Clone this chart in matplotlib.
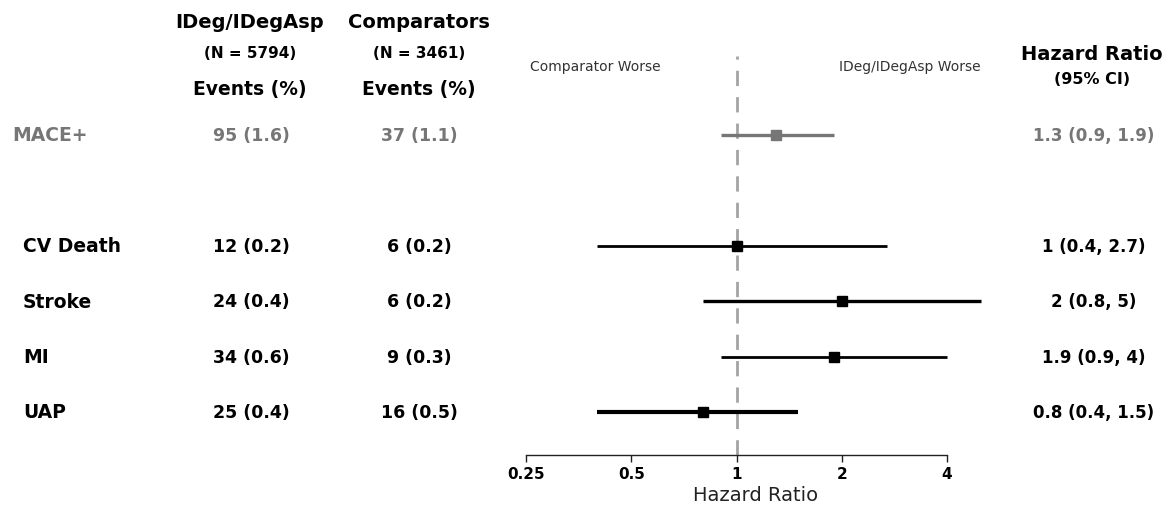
"""Forest plot of cardiovascular outcomes, IDeg/IDegAsp vs comparators."""

import matplotlib.pyplot as plt
import matplotlib.transforms as mtransforms
from matplotlib.ticker import FixedLocator, FixedFormatter, NullLocator

plt.rcParams["font.family"] = ["DejaVu Sans"]

outcomes = ["MACE+", "CV Death", "Stroke", "MI", "UAP"]
row_pos = [0, 2, 3, 4, 5]
ideg_events = ["95 (1.6)", "12 (0.2)", "24 (0.4)", "34 (0.6)", "25 (0.4)"]
comp_events = ["37 (1.1)", "6 (0.2)", "6 (0.2)", "9 (0.3)", "16 (0.5)"]
hr = [1.3, 1.0, 2.0, 1.9, 0.8]
ci_low = [0.9, 0.4, 0.8, 0.9, 0.4]
ci_high = [1.9, 2.7, 5.0, 4.0, 1.5]
hr_labels = ["1.3 (0.9, 1.9)", "1 (0.4, 2.7)", "2 (0.8, 5)",
             "1.9 (0.9, 4)", "0.8 (0.4, 1.5)"]
row_colors = ["#767676", "black", "black", "black", "black"]
line_widths = [2.4, 2.0, 2.4, 2.0, 3.0]
x_ticks = [0.25, 0.5, 1, 2, 4]
x_tick_labels = ["0.25", "0.5", "1", "2", "4"]

W, H = 1173, 506
fig = plt.figure(figsize=(W / 100, H / 100), dpi=100)

# forest panel: log2 axis from 0.25 to 4, rows spaced evenly
ax_left, ax_right, ax_bottom = 526, 947, 456
first_row, row_px = 136, 55.4
ax = fig.add_axes([ax_left / W, (H - ax_bottom) / H,
                   (ax_right - ax_left) / W, ax_bottom / H])
ax.set_xscale("log", base=2)
ax.set_xlim(0.25, 4)
ax.set_ylim((ax_bottom - first_row) / row_px, -first_row / row_px)

for sp in ("top", "right", "left"):
    ax.spines[sp].set_visible(False)
ax.spines["bottom"].set_linewidth(1.0)
ax.spines["bottom"].set_color("#222222")
ax.yaxis.set_major_locator(NullLocator())
ax.xaxis.set_major_locator(FixedLocator(x_ticks))
ax.xaxis.set_major_formatter(FixedFormatter(x_tick_labels))
ax.xaxis.set_minor_locator(NullLocator())
ax.tick_params(axis="x", direction="out", length=5, width=1.0, pad=3,
               labelsize=11, color="#222222")
for lab in ax.get_xticklabels():
    lab.set_fontweight("bold")
ax.set_xlabel("Hazard Ratio", fontsize=14, color="#222222")
ax.xaxis.set_label_coords((756 - ax_left) / (ax_right - ax_left), -0.066)
ax.patch.set_visible(False)

ax.axvline(1, ymin=0, ymax=(ax_bottom - 57) / ax_bottom, color="#a4a4a4",
           lw=2, dashes=(5.5, 4), zorder=1)

for y, est, lo, hi, c, lw in zip(row_pos, hr, ci_low, ci_high,
                                  row_colors, line_widths):
    ax.plot([lo, hi], [y, y], color=c, lw=lw, solid_capstyle="butt",
            clip_on=False, zorder=2)
    ax.plot([est], [y], marker="s", ms=7.5, color=c, clip_on=False, zorder=3)

# text columns share the row positions of the forest axes
row_tf = mtransforms.blended_transform_factory(fig.transFigure, ax.transData)

for i, (y, name) in enumerate(zip(row_pos, outcomes)):
    c = row_colors[i]
    x_name = 12 if i == 0 else 23
    ax.text(x_name / W, y, name, transform=row_tf, ha="left", va="center",
            fontsize=13.5, fontweight="bold", color=c)
    ax.text(251 / W, y, ideg_events[i], transform=row_tf, ha="center",
            va="center", fontsize=12.5, fontweight="bold", color=c)
    ax.text(419 / W, y, comp_events[i], transform=row_tf, ha="center",
            va="center", fontsize=12.5, fontweight="bold", color=c)
    ax.text(1094 / W, y, hr_labels[i], transform=row_tf, ha="center",
            va="center", fontsize=12, fontweight="bold", color=c)


def fig_text(x, y, s, size, weight="bold", color="black"):
    fig.text(x / W, 1 - y / H, s, fontsize=size, fontweight=weight,
             ha="center", va="center", color=color)


fig_text(250, 23, "IDeg/IDegAsp", 14)
fig_text(250, 53, "(N = 5794)", 11)
fig_text(250, 90, "Events (%)", 13.5)
fig_text(419, 23, "Comparators", 14)
fig_text(419, 53, "(N = 3461)", 11)
fig_text(419, 90, "Events (%)", 13.5)
fig_text(1092, 55, "Hazard Ratio", 14)
fig_text(1092, 80, "(95% CI)", 11.5)
fig_text(595, 67, "Comparator Worse", 10, weight="normal", color="#333333")
fig_text(910, 67, "IDeg/IDegAsp Worse", 10, weight="normal",
         color="#333333")

fig.savefig("out.png", dpi=100)
